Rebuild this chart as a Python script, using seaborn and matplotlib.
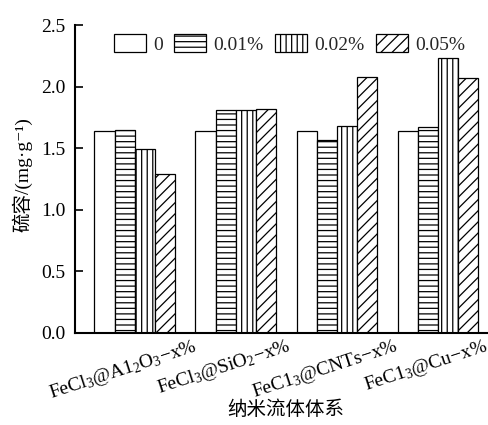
import matplotlib
matplotlib.use("Agg")
import matplotlib.pyplot as plt
import matplotlib.transforms as mtransforms
import seaborn as sns
import pandas as pd
from matplotlib.patches import Patch

systems = [r"FeCl$_3$@A1$_2$O$_3$$-$x%", r"FeCl$_3$@SiO$_2$$-$x%",
           r"FeC1$_3$@CNTs$-$x%", r"FeC1$_3$@Cu$-$x%"]
levels = ["0", "0.01%", "0.02%", "0.05%"]
v_0 = [1.64, 1.64, 1.64, 1.64]
v_001 = [1.645, 1.81, 1.57, 1.675]
v_002 = [1.49, 1.81, 1.68, 2.23]
v_005 = [1.29, 1.82, 2.075, 2.07]
yticks = [0.0, 0.5, 1.0, 1.5, 2.0, 2.5]
hatches = ["", "---", "|||", "///"]
ylabel = "硫容/(mg·g⁻¹)"
xlabel = "纳米流体体系"

rows = []
for lvl, vals in zip(levels, [v_0, v_001, v_002, v_005]):
    for s, v in zip(systems, vals):
        rows.append({"system": s, "level": lvl, "value": v})
df = pd.DataFrame(rows)

sns.set_theme(style="ticks")
plt.rcParams["font.family"] = ["Liberation Serif", "Noto Sans CJK SC", "DejaVu Sans"]
plt.rcParams["mathtext.fontset"] = "custom"
plt.rcParams["mathtext.rm"] = "Liberation Serif"
plt.rcParams["mathtext.it"] = "Liberation Serif:italic"
plt.rcParams["mathtext.bf"] = "Liberation Serif:bold"
plt.rcParams["hatch.linewidth"] = 0.9
plt.rcParams["hatch.color"] = "black"

FS = 14
fig = plt.figure(figsize=(4.89, 4.25), dpi=100)
ax = fig.add_axes([0.153, 0.2165, 0.845, 0.7245])

sns.barplot(data=df, x="system", y="value", hue="level", order=systems,
            hue_order=levels, palette=["white"] * 4, edgecolor="black",
            linewidth=0.9, width=0.8, gap=0, ax=ax, legend=False)

for cont, h in zip(ax.containers, hatches):
    for bar in cont:
        bar.set_hatch(h)
        bar.set_edgecolor("black")
        bar.set_facecolor("white")

ax.set_xlim(-0.594, 3.495)
ax.set_ylim(0, 2.5)
ax.set_yticks(yticks)
ax.set_yticklabels([f"{t:.1f}" for t in yticks])
ax.tick_params(axis="y", direction="in", length=6, width=1.2, labelsize=FS, pad=7, colors="black")
ax.tick_params(axis="x", length=0, labelbottom=False)

# category labels, rotated, placed at each category position
offset = mtransforms.ScaledTranslation(-12 / 100, -3 / 100, fig.dpi_scale_trans)
trans = ax.get_xaxis_transform() + offset
for i, s in enumerate(systems):
    ax.text(i, 0, s, transform=trans, rotation=18, ha="center", va="top",
            fontsize=FS, color="black", clip_on=False)

sns.despine(ax=ax)
for sp in ["left", "bottom"]:
    ax.spines[sp].set_linewidth(1.5)
    ax.spines[sp].set_color("black")

ax.set_xlabel(xlabel, fontsize=FS, color="black")
ax.xaxis.set_label_coords(0.511, -0.25)
ax.xaxis.label.set_va("center")
ax.set_ylabel(ylabel, fontsize=FS, color="black")
ax.yaxis.set_label_coords(-0.126, 0.513)
ax.yaxis.label.set_va("center")

handles = [Patch(facecolor="white", edgecolor="black", hatch=h, linewidth=0.9, label=l)
           for h, l in zip(hatches, levels)]
ax.legend(handles=handles, loc="upper left", bbox_to_anchor=(114 / 489, 1 - 34 / 425),
          bbox_transform=fig.transFigure, ncol=4, frameon=False, fontsize=FS,
          handlelength=1.65, handleheight=1.05, handletextpad=0.35, columnspacing=0.6,
          borderpad=0, borderaxespad=0)

fig.savefig("out.png", dpi=100)
